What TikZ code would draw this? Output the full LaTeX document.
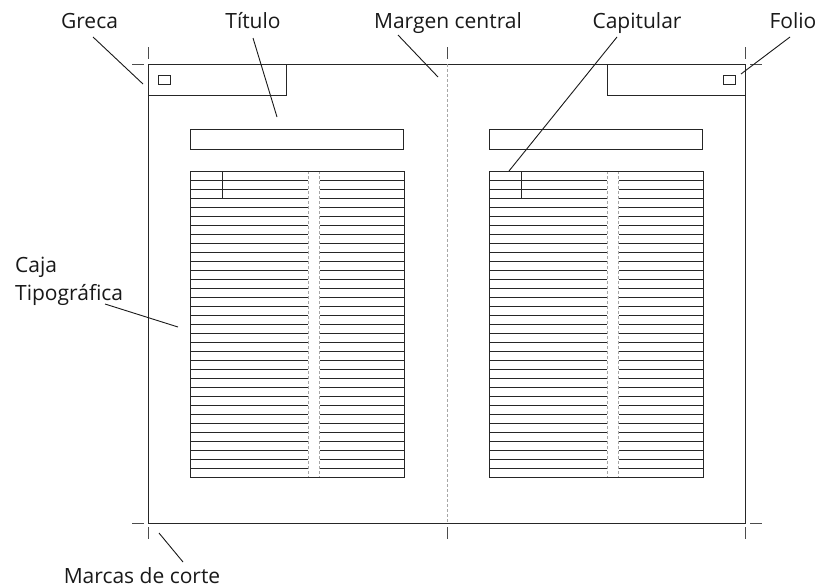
\documentclass[tikz,border=0pt]{standalone}
\usepackage{fontspec}
\setmainfont{Open Sans}
\begin{document}
\begin{tikzpicture}[x=1pt,y=-1pt,
  rule/.style={draw=black!85, line width=0.9pt},
  thin/.style={draw=black!85, line width=0.8pt},
  guide/.style={draw=black!35, dash pattern=on 3pt off 2pt, line width=0.6pt},
  crop/.style={draw=black!70, line width=0.9pt},
  lbl/.style={font=\fontsize{21}{25}\selectfont, text=black!90, inner sep=0pt},
  leader/.style={draw=black!90, line width=0.9pt}]
\useasboundingbox (0,0) rectangle (830,587);

% page outline and central margin
\draw[rule] (148,64) rectangle (745,523);
\draw[guide] (447,64) -- (447,523);

% crop marks
\foreach \cx in {148,447,745} {
  \draw[crop] (\cx,47) -- (\cx,59);
  \draw[crop] (\cx,527) -- (\cx,539);
}
\foreach \cy in {64,523} {
  \draw[crop] (132,\cy) -- (144,\cy);
  \draw[crop] (750,\cy) -- (762,\cy);
}

% greca and folio boxes
\draw[rule] (148,64) rectangle (286,95);
\draw[rule] (158,75) rectangle (170,84);
\draw[rule] (607,64) rectangle (745,95);
\draw[rule] (723,75) rectangle (735,84);

% two pages
\foreach \ox in {0,299} {
  \draw[rule] (190+\ox,129) rectangle (403+\ox,149);
  \foreach \k in {1,...,33} {
    \draw[thin] (190+\ox,171+9*\k) -- (308+\ox,171+9*\k);
    \draw[thin] (319.5+\ox,171+9*\k) -- (404+\ox,171+9*\k);
  }
  \draw[guide] (308+\ox,171) -- (308+\ox,477);
  \draw[guide] (319.5+\ox,171) -- (319.5+\ox,477);
  \draw[rule] (190+\ox,171) rectangle (404+\ox,477);
  \draw[rule] (190+\ox,171) rectangle (222+\ox,198);
}

% labels
\node[lbl, anchor=base] (greca) at (89.5,28) {Greca};
\node[lbl, anchor=base] (titulo) at (253,28) {Título};
\node[lbl, anchor=base] (margen) at (448,28) {Margen central};
\node[lbl, anchor=base] (capitular) at (637,28) {Capitular};
\node[lbl, anchor=base] (folio) at (793,28) {Folio};
\node[lbl, anchor=base west] (caja) at (15,272) {Caja};
\node[lbl, anchor=base west] (tipo) at (15,300) {Tipográfica};
\node[lbl, anchor=base] (marcas) at (142,583) {Marcas de corte};

% leader lines
\coordinate (greca-a) at (93,37);     \coordinate (greca-b) at (143,84);
\coordinate (titulo-a) at (253,38);   \coordinate (titulo-b) at (277,117);
\coordinate (margen-a) at (398,35);   \coordinate (margen-b) at (438,77);
\coordinate (capit-a) at (617,37);    \coordinate (capit-b) at (509,171);
\coordinate (folio-a) at (790,37);    \coordinate (folio-b) at (741,74);
\coordinate (caja-a) at (105,304);    \coordinate (caja-b) at (178,327);
\coordinate (marcas-a) at (159,533);  \coordinate (marcas-b) at (183,562);
\draw[leader] (greca-a) -- (greca-b);
\draw[leader] (titulo-a) -- (titulo-b);
\draw[leader] (margen-a) -- (margen-b);
\draw[leader] (capit-a) -- (capit-b);
\draw[leader] (folio-a) -- (folio-b);
\draw[leader] (caja-a) -- (caja-b);
\draw[leader] (marcas-a) -- (marcas-b);
\end{tikzpicture}
\end{document}
